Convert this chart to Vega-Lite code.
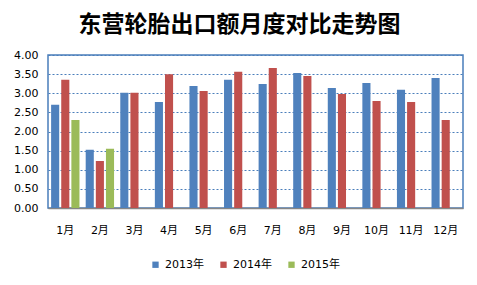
{
  "$schema": "https://vega.github.io/schema/vega-lite/v6.json",
  "width": 415,
  "height": 153,
  "autosize": "none",
  "padding": {"left": 48, "top": 55, "right": 14, "bottom": 77},
  "background": "white",
  "title": {
    "text": "东营轮胎出口额月度对比走势图",
    "font": "'Noto Sans CJK SC'",
    "fontSize": 23,
    "fontWeight": "bold",
    "color": "#000000",
    "anchor": "middle",
    "dx": -16,
    "offset": 12
  },
  "data": {
    "values": [
      {"month": "1月", "year": "2013年", "value": 2.70},
      {"month": "1月", "year": "2014年", "value": 3.35},
      {"month": "1月", "year": "2015年", "value": 2.30},
      {"month": "2月", "year": "2013年", "value": 1.52},
      {"month": "2月", "year": "2014年", "value": 1.23},
      {"month": "2月", "year": "2015年", "value": 1.55},
      {"month": "3月", "year": "2013年", "value": 3.01},
      {"month": "3月", "year": "2014年", "value": 3.01},
      {"month": "4月", "year": "2013年", "value": 2.77},
      {"month": "4月", "year": "2014年", "value": 3.50},
      {"month": "5月", "year": "2013年", "value": 3.19},
      {"month": "5月", "year": "2014年", "value": 3.06},
      {"month": "6月", "year": "2013年", "value": 3.35},
      {"month": "6月", "year": "2014年", "value": 3.56},
      {"month": "7月", "year": "2013年", "value": 3.24},
      {"month": "7月", "year": "2014年", "value": 3.66},
      {"month": "8月", "year": "2013年", "value": 3.53},
      {"month": "8月", "year": "2014年", "value": 3.45},
      {"month": "9月", "year": "2013年", "value": 3.14},
      {"month": "9月", "year": "2014年", "value": 2.98},
      {"month": "10月", "year": "2013年", "value": 3.27},
      {"month": "10月", "year": "2014年", "value": 2.80},
      {"month": "11月", "year": "2013年", "value": 3.09},
      {"month": "11月", "year": "2014年", "value": 2.77},
      {"month": "12月", "year": "2013年", "value": 3.40},
      {"month": "12月", "year": "2014年", "value": 2.30}
    ]
  },
  "mark": {"type": "bar"},
  "encoding": {
    "x": {
      "field": "month",
      "type": "nominal",
      "sort": ["1月","2月","3月","4月","5月","6月","7月","8月","9月","10月","11月","12月"],
      "scale": {"paddingInner": 0.18, "paddingOuter": 0.09},
      "axis": {
        "title": null,
        "labelAngle": 0,
        "ticks": false,
        "labelPadding": 16,
        "labelFontSize": 11,
        "labelFont": "'DejaVu Sans', 'Noto Sans CJK SC'",
        "labelColor": "#000000",
        "domainColor": "#868686",
        "domainWidth": 1.5,
        "grid": false
      }
    },
    "xOffset": {
      "field": "year",
      "type": "nominal",
      "scale": {"domain": ["2013年", "2014年", "2015年"], "paddingInner": 0.2, "paddingOuter": 0}
    },
    "y": {
      "field": "value",
      "type": "quantitative",
      "scale": {"domain": [0, 4], "nice": false},
      "axis": {
        "title": null,
        "values": [0, 0.5, 1, 1.5, 2, 2.5, 3, 3.5, 4],
        "format": ".2f",
        "ticks": false,
        "domain": false,
        "labelPadding": 10,
        "labelFontSize": 11,
        "labelFont": "'DejaVu Sans'",
        "labelColor": "#000000",
        "gridColor": "#4a7ebb",
        "gridDash": [2, 2],
        "gridWidth": 1
      }
    },
    "color": {
      "field": "year",
      "type": "nominal",
      "scale": {"domain": ["2013年", "2014年", "2015年"], "range": ["#4f81bd", "#c0504d", "#9bbb59"]},
      "legend": {
        "title": null,
        "orient": "none",
        "direction": "horizontal",
        "legendX": 102,
        "legendY": 204,
        "symbolType": "square",
        "symbolSize": 40,
        "symbolStrokeWidth": 0,
        "labelFontSize": 11,
        "labelFont": "'DejaVu Sans', 'Noto Sans CJK SC'",
        "labelColor": "#000000",
        "labelOffset": 4,
        "columnPadding": 14
      }
    }
  },
  "config": {
    "view": {"stroke": "#4a7ebb", "strokeWidth": 1.5}
  }
}
